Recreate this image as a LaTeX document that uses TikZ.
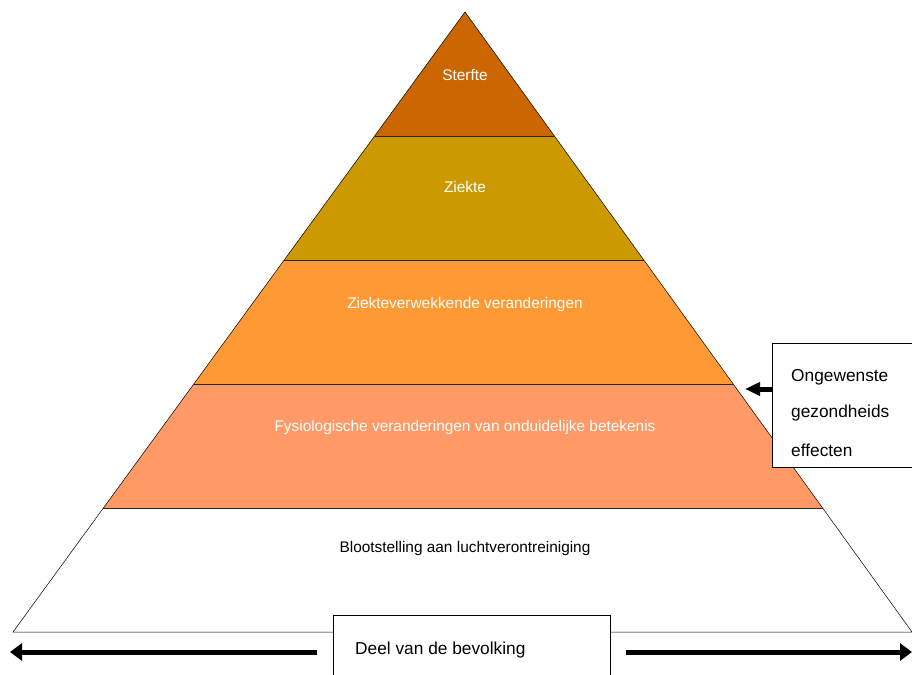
\documentclass[tikz,border=0pt]{standalone}
\usepackage{fontspec}
\setmainfont{Liberation Sans}
\usetikzlibrary{arrows.meta}
\definecolor{cA}{HTML}{CC6600}
\definecolor{cB}{HTML}{CC9900}
\definecolor{cC}{HTML}{FF9933}
\definecolor{cD}{HTML}{FF9966}
\begin{document}
\begin{tikzpicture}[x=1pt,y=-1pt,
  lbl/.style={font=\fontsize{15.4}{18}\selectfont, inner sep=0pt},
  wl/.style={lbl, text=white},
  band/.style={draw=black!85, line width=0.7pt},
  bigarrow/.style={line width=5pt, -{Triangle[length=12pt,width=17pt]}},
  boxtext/.style={font=\fontsize{17.3}{20}\selectfont, inner sep=0pt, anchor=west}]
\useasboundingbox (0,0) rectangle (912,674);
% pyramid geometry: apex (465,12), base (13,632)-(912,632)
\coordinate (apex) at (465,12);
\coordinate (bl) at (13,632);
\coordinate (br) at (912,632);
\path (apex) -- (bl) coordinate[pos=0.2] (l1) coordinate[pos=0.4] (l2) coordinate[pos=0.6] (l3) coordinate[pos=0.8] (l4);
\path (apex) -- (br) coordinate[pos=0.2] (r1) coordinate[pos=0.4] (r2) coordinate[pos=0.6] (r3) coordinate[pos=0.8] (r4);
\fill[white] (l4) -- (bl) -- (br) -- (r4) -- cycle;
\fill[cD] (l3) -- (l4) -- (r4) -- (r3) -- cycle;
\fill[cC] (l2) -- (l3) -- (r3) -- (r2) -- cycle;
\fill[cB] (l1) -- (l2) -- (r2) -- (r1) -- cycle;
\fill[cA] (apex) -- (l1) -- (r1) -- cycle;
\draw[line width=0.5pt] (apex) -- (bl) -- (br) -- cycle;
\draw[band] (l1) -- (r1);
\draw[band] (l2) -- (r2);
\draw[band] (l3) -- (r3);
\draw[band] (l4) -- (r4);
\node[wl] (t1) at (465,75) {Sterfte};
\node[wl] (t2) at (465,187) {Ziekte};
\node[wl] (t3) at (465,305) {Ziekteverwekkende veranderingen};
\node[wl] (t4) at (465,428) {Fysiologische veranderingen van onduidelijke betekenis};
\node[lbl] (t5) at (465,549) {Blootstelling aan luchtverontreiniging};
% right box
\node[draw, fill=white, line width=0.8pt, minimum width=150pt, minimum height=124pt, anchor=north west, inner sep=0pt] (rbox) at (772,343) {};
\node[boxtext] (o1) at (791,377) {Ongewenste};
\node[boxtext] (o2) at (791,413) {gezondheids};
\node[boxtext] (o3) at (791,450) {effecten};
\coordinate (rtip) at (745,389);
\draw[line width=5pt, -{Triangle[length=15pt,width=13pt]}] (rbox.west |- rtip) -- (rtip);
% bottom box
\node[draw, fill=white, line width=0.8pt, minimum width=277pt, minimum height=80pt, anchor=north west, inner sep=0pt] (bbox) at (333,615) {};
\node[boxtext] (d1) at (355,650) {Deel van de bevolking};
\coordinate (ltip) at (10,652);
\coordinate (rtip2) at (912,652);
\draw[bigarrow] (317,652) coordinate (ls) -- (ltip);
\draw[bigarrow] (626,652) coordinate (rs) -- (rtip2);
\end{tikzpicture}
\end{document}
